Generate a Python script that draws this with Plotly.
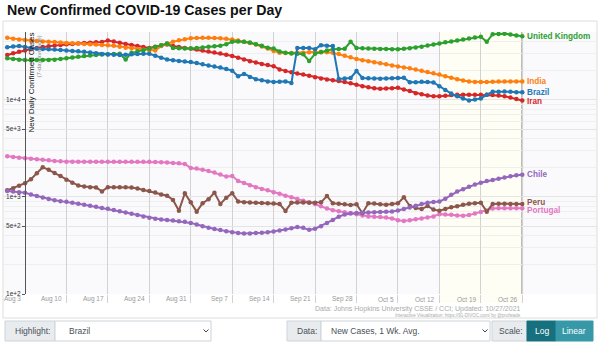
import plotly.graph_objects as go
import pandas as pd
import numpy as np

# ---------------- data ----------------
start_date = "2021-07-31"
n_days = 88

united_kingdom = [26800, 26400, 25900, 25700, 25600, 25700, 25800, 25800, 25900, 26300,
                  26800, 27300, 27800, 28300, 28700, 29000, 29300, 29500, 29700, 29900,
                  26000, 30500, 31400, 32500, 33600, 35000, 36600, 38100, 34300, 34000,
                  33800, 33800, 34200, 34700, 35200, 35700, 36000, 37500, 39600, 39800,
                  39600, 38900, 37500, 36000, 34500, 33800, 31500, 30500, 30000, 29800,
                  29500, 25200, 29800, 31000, 32300, 33300, 33500, 33600, 39600, 34300,
                  34000, 33800, 33600, 33500, 33400, 33300, 33200, 33600, 34100, 34700,
                  35200, 36200, 37200, 38100, 39100, 40000, 40900, 41800, 42800, 43800,
                  44600, 39600, 47400, 47800, 48000, 47200, 46000, 45300]

india = [43500, 42700, 41900, 41300, 40800, 40400, 40000, 39700, 39400, 39000,
         38600, 38300, 38000, 37700, 37400, 37100, 36800, 36600, 36000, 35200,
         34500, 34000, 33400, 32900, 32400, 32200, 35800, 38000, 39600, 41000,
         42200, 43000, 43400, 43600, 43600, 43400, 43000, 42500, 41900, 40800,
         39700, 38600, 37200, 35500, 33800, 31800, 30500, 30400, 30400, 30500,
         30600, 30900, 31200, 31300, 31000, 30500, 29600, 28500, 27400, 26300,
         25600, 25000, 24400, 23800, 23200, 22600, 22100, 21600, 21100, 20500,
         20000, 19400, 18800, 18200, 17500, 16900, 16300, 15800, 15500, 15300,
         15300, 15300, 15400, 15500, 15500, 15500, 15500, 15500]

brazil = [34800, 35400, 35800, 35000, 34000, 33600, 33400, 33300, 33100, 32700,
          32300, 31900, 31600, 31300, 30800, 30200, 29700, 29400, 29200, 29000,
          29200, 29500, 29700, 29800, 29800, 28500, 27200, 26000, 25600, 25200,
          24800, 24600, 24000, 23200, 22600, 22000, 21500, 20800, 20000, 17500,
          18500, 17200, 16300, 15900, 15500, 15300, 15400, 15500, 14900, 34300,
          34300, 34300, 33300, 36600, 36000, 35800, 16400, 16600, 16800, 19800,
          16800, 16700, 16600, 16500, 16600, 16700, 16800, 16900, 15200, 15200,
          15400, 15300, 15100, 13800, 12600, 11600, 10900, 10300, 9850, 10100,
          10300, 11300, 12100, 12100, 12200, 12100, 12000, 12000]

iran = [29000, 30200, 31300, 32300, 33300, 34200, 35000, 35600, 36200, 36800,
        37300, 37700, 38100, 38500, 38800, 39100, 39400, 40900, 40000, 38800,
        37600, 36800, 35800, 35000, 34300, 35200, 36300, 37100, 35800, 35000,
        34300, 33800, 33000, 32200, 31500, 30800, 30000, 29200, 28300, 27200,
        26100, 25000, 24200, 23400, 22800, 22200, 20600, 19800, 19200, 18700,
        18200, 17700, 17100, 16600, 16200, 15900, 15600, 15300, 14800, 14300,
        13800, 13500, 13200, 13000, 13100, 13200, 13300, 12800, 12300, 11700,
        11400, 11100, 10900, 10900, 11000, 11200, 11300, 11300, 11300, 11300,
        11300, 11300, 11200, 11100, 10900, 10600, 10200, 9850]

chile = [1150, 1135, 1120, 1107, 1060, 1020, 985, 950, 925, 905,
         890, 870, 850, 830, 810, 790, 770, 755, 735, 710,
         690, 670, 650, 630, 612, 595, 585, 578, 570, 562,
         556, 540, 520, 500, 482, 468, 455, 443, 432, 424,
         420, 421, 424, 427, 432, 440, 450, 462, 476, 490,
         480, 458, 470, 500, 540, 580, 625, 660, 675, 682,
         688, 692, 696, 700, 703, 706, 725, 750, 778, 810,
         845, 870, 885, 895, 960, 1050, 1135, 1200, 1275, 1340,
         1400, 1455, 1497, 1540, 1590, 1630, 1670, 1690]

peru = [1170, 1230, 1300, 1384, 1520, 1750, 2024, 1900, 1760, 1640,
        1500, 1400, 1310, 1280, 1260, 1250, 1140, 1260, 1260, 1260,
        1260, 1250, 1220, 1180, 1150, 1110, 1060, 1030, 930, 722,
        1091, 880, 705, 861, 946, 1107, 847, 980, 1091, 895,
        880, 875, 870, 865, 860, 855, 845, 717, 870, 875,
        875, 873, 873, 880, 1023, 860, 850, 840, 827, 840,
        680, 860, 855, 840, 830, 845, 860, 993, 806, 770,
        750, 806, 740, 720, 750, 783, 800, 830, 850, 861,
        870, 705, 847, 850, 850, 848, 847, 847]

portugal = [2620, 2580, 2540, 2505, 2470, 2440, 2410, 2380, 2350, 2330,
            2310, 2300, 2300, 2300, 2300, 2310, 2310, 2310, 2310, 2310,
            2310, 2310, 2310, 2310, 2300, 2290, 2280, 2260, 2240, 2220,
            2190, 1990, 1960, 1910, 1850, 1780, 1700, 1620, 1646, 1460,
            1390, 1320, 1260, 1210, 1170, 1120, 1080, 1030, 990, 950,
            915, 880, 845, 800, 760, 730, 710, 695, 685, 665,
            645, 630, 625, 620, 615, 600, 575, 565, 575, 590,
            600, 615, 630, 665, 660, 655, 645, 638, 650, 675,
            700, 725, 760, 765, 765, 765, 765, 765]

series_names = ["Portugal", "Peru", "Chile", "Iran", "India", "United Kingdom", "Brazil"]
series_values = [portugal, peru, chile, iran, india, united_kingdom, brazil]
series_colors = ["#e377c2", "#8c564b", "#9467bd", "#d62728", "#ff7f0e", "#2ca02c", "#1f77b4"]
label_yshift = [-2.5, 1.5, 0, -1, 0, 0, 0]

x_tick_dates = ["2021-08-03", "2021-08-10", "2021-08-17", "2021-08-24", "2021-08-31",
                "2021-09-07", "2021-09-14", "2021-09-21", "2021-09-28", "2021-10-05",
                "2021-10-12", "2021-10-19", "2021-10-26"]
x_tick_labels = ["Aug 3", "Aug 10", "Aug 17", "Aug 24", "Aug 31", "Sep 7", "Sep 14",
                 "Sep 21", "Sep 28", "Oct 5", "Oct 12", "Oct 19", "Oct 26"]
y_tick_vals = [100, 500, 1000, 5000, 10000]
y_tick_text = ["1e+2", "5e+2", "1e+3", "5e+3", "1e+4"]
y_minor_vals = [m * 10 ** e for e in (2, 3, 4) for m in range(2, 10) if m * 10 ** e <= 50000]

dates = pd.date_range(start_date, periods=n_days)

# ---------------- layout helpers ----------------
W, H = 600, 344
L, R, T, B = 3, 3, 32, 50
PW, PH = W - L - R, H - T - B


def px(xp):
    return (xp - L) / PW


def py(yp):
    return (H - B - yp) / PH


day_px = 5.92
aug3 = pd.Timestamp("2021-08-03")
x0 = aug3 + pd.Timedelta(days=(L - 25) / day_px)
x1 = aug3 + pd.Timedelta(days=(W - R - 25) / day_px)

FONT = "Liberation Sans, Arial, Helvetica, sans-serif"

fig = go.Figure()

for name, vals, col in zip(series_names, series_values, series_colors):
    fig.add_trace(go.Scatter(
        x=dates, y=vals, name=name, mode="lines+markers",
        line=dict(color=col, width=2),
        marker=dict(color=col, size=4.5),
        showlegend=False, hoverinfo="skip",
    ))

annotations = []
# right end labels
for name, vals, col, ys in zip(series_names, series_values, series_colors, label_yshift):
    annotations.append(dict(
        x=dates[-1], y=np.log10(vals[-1]), xref="x", yref="y",
        text="<b>%s</b>" % name, showarrow=False, xanchor="left", yanchor="middle",
        xshift=3, yshift=ys, font=dict(family=FONT, size=8.2, color=col),
    ))

# x tick labels (right aligned to grid lines)
for d, t in zip(x_tick_dates, x_tick_labels):
    annotations.append(dict(
        x=d, y=py(299), xref="x", yref="paper", text=t, showarrow=False,
        xanchor="right", yanchor="middle", xshift=-2,
        font=dict(family=FONT, size=6.5, color="#999"),
    ))

# title
annotations.append(dict(
    x=px(5), y=py(10), xref="paper", yref="paper",
    text="<b>New Confirmed COVID-19 Cases per Day</b>", showarrow=False,
    xanchor="left", yanchor="middle", font=dict(family=FONT, size=14.2, color="#111"),
))
# y axis title
annotations.append(dict(
    x=px(30.5), y=py(83), xref="paper", yref="paper", text="New Daily Confirmed Cases",
    showarrow=False, textangle=-90, xanchor="center", yanchor="middle",
    font=dict(family=FONT, size=8, color="#111"),
))
annotations.append(dict(
    x=px(38.5), y=py(57), xref="paper", yref="paper", text="(7-day average)",
    showarrow=False, textangle=-90, xanchor="center", yanchor="middle",
    font=dict(family=FONT, size=6, color="#888"),
))
# source
annotations.append(dict(
    x=px(523), y=py(309), xref="paper", yref="paper",
    text="Data: Johns Hopkins University CSSE / CCI; Updated: 10/27/2021",
    showarrow=False, xanchor="right", yanchor="middle",
    font=dict(family=FONT, size=7, color="#aaa"),
))
annotations.append(dict(
    x=px(523), y=py(315.5), xref="paper", yref="paper",
    text="Interactive Visualization: https://91-DIVOC.com/ by @profwade",
    showarrow=False, xanchor="right", yanchor="middle",
    font=dict(family=FONT, size=4.5, color="#aaa"),
))

# controls bar text
ctrl_font = dict(family=FONT, size=8.5, color="#495057")
for xx, t in [(13, "Highlight:"), (67, "Brazil"), (295, "Data:"),
              (329, "New Cases, 1 Wk. Avg."), (497, "Scale:")]:
    annotations.append(dict(x=px(xx), y=py(331), xref="paper", yref="paper", text=t,
                            showarrow=False, xanchor="left", yanchor="middle", font=ctrl_font))
for xx, t in [(541.5, "Log"), (574, "Linear")]:
    annotations.append(dict(x=px(xx), y=py(331), xref="paper", yref="paper", text=t,
                            showarrow=False, xanchor="center", yanchor="middle",
                            font=dict(family=FONT, size=8.5, color="white")))

shapes = []
# frame
shapes.append(dict(type="rect", xref="paper", yref="paper", x0=px(3), x1=px(597),
                   y0=py(318), y1=py(21), line=dict(color="#dddddd", width=1),
                   fillcolor="rgba(0,0,0,0)", layer="below"))
# recent-data shading
shapes.append(dict(type="rect", xref="x", yref="paper", x0="2021-10-12", x1="2021-10-26",
                   y0=py(303), y1=1, fillcolor="#fefef5", line=dict(width=0), layer="below"))
# last date line
shapes.append(dict(type="line", xref="x", yref="paper", x0="2021-10-26", x1="2021-10-26",
                   y0=0, y1=1, line=dict(color="#777", width=1.5), layer="below"))

# controls boxes
def box(xa, xb, fill, line="#ced4da"):
    shapes.append(dict(type="rect", xref="paper", yref="paper", x0=px(xa), x1=px(xb),
                       y0=py(341), y1=py(321), fillcolor=fill, line=dict(color=line, width=1)))

box(5, 55, "#e9ecef")
box(55, 211, "#ffffff")
box(287, 321, "#e9ecef")
box(321, 490, "#ffffff")
box(492, 527, "#e9ecef")
box(527, 556, "#17707e", "#17707e")
box(556, 593, "#3798a8", "#3798a8")

for cx in (206, 485):
    path = "M %f %f L %f %f L %f %f" % (px(cx - 2.5), py(329.5), px(cx), py(332), px(cx + 2.5), py(329.5))
    shapes.append(dict(type="path", xref="paper", yref="paper", path=path,
                       line=dict(color="#444", width=1)))

fig.update_layout(
    width=W, height=H,
    margin=dict(l=L, r=R, t=T, b=B),
    paper_bgcolor="white",
    plot_bgcolor="#fafafd",
    font=dict(family=FONT),
    xaxis=dict(
        type="date", range=[x0, x1], tickvals=x_tick_dates[1:], showticklabels=False,
        showgrid=True, gridcolor="#d2d2d2", gridwidth=1, ticks="outside", ticklen=8,
        tickcolor="#d2d2d2", showline=False, zeroline=False, fixedrange=True,
    ),
    yaxis=dict(
        type="log", range=[2, np.log10(50000)], anchor="free", position=px(25),
        showline=True, linecolor="#555", linewidth=1,
        ticks="outside", ticklen=3, tickcolor="#555",
        tickvals=y_tick_vals, ticktext=y_tick_text,
        tickfont=dict(family=FONT, size=6.5, color="#333"),
        showgrid=True, gridcolor="#e4e4e4",
        minor=dict(tickvals=y_minor_vals, showgrid=True, gridcolor="#efefef", ticks=""),
        zeroline=False, fixedrange=True,
    ),
    annotations=annotations,
    shapes=shapes,
)

fig.write_html("out.html")
